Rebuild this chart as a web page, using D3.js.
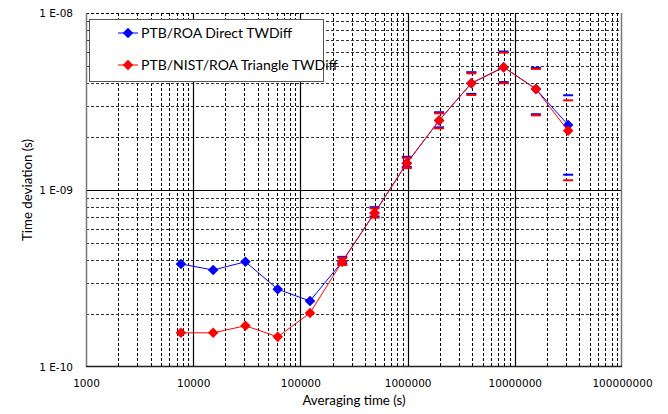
<!DOCTYPE html>
<html><head><meta charset="utf-8">
<script src="https://cdn.jsdelivr.net/npm/d3@7/dist/d3.min.js"></script>
<style>body{margin:0;background:#fff}svg{display:block}</style>
</head><body><svg id="c" width="668" height="414"></svg>
<script>
// ---- data ----
const tau = [7680, 15360, 30720, 61440, 122880, 245760, 491520, 983040, 1966080, 3932160, 7864320, 15728640, 31457280];
const directTW = [3.82e-10, 3.53e-10, 3.93e-10, 2.75e-10, 2.36e-10, 3.94e-10, 7.42e-10, 1.416e-9, 2.47e-9, 4.01e-9, 4.94e-9, 3.72e-9, 2.33e-9];
const triangleTW = [1.56e-10, 1.56e-10, 1.71e-10, 1.48e-10, 2.02e-10, 3.94e-10, 7.42e-10, 1.416e-9, 2.47e-9, 4.01e-9, 4.94e-9, 3.72e-9, 2.16e-9];
const errTau = [245760, 491520, 983040, 1966080, 3932160, 7864320, 15728640, 31457280];
const directUpper = [4.19e-10, 8.0e-10, 1.54e-9, 2.75e-9, 4.63e-9, 6.06e-9, 4.9e-9, 3.43e-9];
const directLower = [3.83e-10, 7.09e-10, 1.35e-9, 2.26e-9, 3.49e-9, 4.07e-9, 2.68e-9, 1.22e-9];
const triUpper = [4.13e-10, 7.88e-10, 1.52e-9, 2.71e-9, 4.56e-9, 5.97e-9, 4.83e-9, 3.21e-9];
const triLower = [3.77e-10, 6.98e-10, 1.33e-9, 2.23e-9, 3.44e-9, 4.01e-9, 2.64e-9, 1.135e-9];
const xTickValues = [1e3, 1e4, 1e5, 1e6, 1e7, 1e8];
const xTickLabels = ["1000", "10000", "100000", "1000000", "10000000", "100000000"];
const yTickValues = [1e-8, 1e-9, 1e-10];
const yTickLabels = ["1 E-08", "1 E-09", "1 E-10"];
const seriesNames = ["PTB/ROA Direct TWDiff", "PTB/NIST/ROA Triangle TWDiff"];

// ---- layout ----
const L = 86, R = 622, T = 13, B = 367;
const svg = d3.select("#c");
const x = d3.scaleLog().domain([1e3, 1e8]).range([L, R]);
const y = d3.scaleLog().domain([1e-10, 1e-8]).range([B, T]);

// minor grid
const minorX = [], minorY = [];
for (let d = 1e3; d < 1e8; d *= 10) for (let m = 2; m <= 9; m++) minorX.push(d * m);
for (let d = 1e-10; d < 1e-8 * 0.99; d *= 10) for (let m = 2; m <= 9; m++) minorY.push(d * m);
const g = svg.append("g");
g.selectAll(".mx").data(minorX).join("line")
  .attr("x1", d => Math.round(x(d)) + 0.5).attr("x2", d => Math.round(x(d)) + 0.5)
  .attr("y1", T).attr("y2", B).attr("stroke", "#000").attr("stroke-dasharray", "3,2").attr("stroke-width", 1);
g.selectAll(".my").data(minorY).join("line")
  .attr("y1", d => Math.round(y(d)) + 0.5).attr("y2", d => Math.round(y(d)) + 0.5)
  .attr("x1", L).attr("x2", R).attr("stroke", "#333").attr("stroke-dasharray", "3,2").attr("stroke-width", 1);
// top dashed
g.append("line").attr("x1", L).attr("x2", R).attr("y1", T + 0.5).attr("y2", T + 0.5)
  .attr("stroke", "#000").attr("stroke-dasharray", "3,2");
// major grid
g.selectAll(".Mx").data([1e4, 1e5, 1e6, 1e7]).join("line")
  .attr("x1", d => Math.round(x(d)) + 0.5).attr("x2", d => Math.round(x(d)) + 0.5)
  .attr("y1", T).attr("y2", B).attr("stroke", "#000").attr("stroke-width", 1.2);
g.append("line").attr("x1", L).attr("x2", R).attr("y1", Math.round(y(1e-9)) + 0.5).attr("y2", Math.round(y(1e-9)) + 0.5)
  .attr("stroke", "#000").attr("stroke-width", 1.2);
// frame
g.append("line").attr("x1", L + 0.5).attr("x2", L + 0.5).attr("y1", T).attr("y2", B).attr("stroke", "#777").attr("stroke-width", 1.5);
g.append("line").attr("x1", R - 0.5).attr("x2", R - 0.5).attr("y1", T).attr("y2", B).attr("stroke", "#777").attr("stroke-width", 1.5);
g.append("line").attr("x1", L).attr("x2", R).attr("y1", B - 0.5).attr("y2", B - 0.5).attr("stroke", "#222").attr("stroke-width", 1.5);

// axes labels
const xAxis = d3.axisBottom(x).tickValues(xTickValues).tickSize(0).tickPadding(0)
  .tickFormat((d, i) => xTickLabels[i]);
const gx = svg.append("g").attr("transform", `translate(0,${B})`).call(xAxis);
gx.select(".domain").remove();
gx.selectAll("text").attr("font-family", "DejaVu Sans").attr("font-size", "10.5px").attr("fill", "#000")
  .attr("dy", null).attr("y", 20);
const yAxis = d3.axisLeft(y).tickValues(yTickValues).tickSize(0).tickPadding(0)
  .tickFormat((d, i) => yTickLabels[i]);
const gy = svg.append("g").attr("transform", `translate(${73},0)`).call(yAxis);
gy.select(".domain").remove();
gy.selectAll("text").attr("font-family", "DejaVu Sans").attr("font-size", "10.5px").attr("fill", "#000");

svg.append("text").attr("x", 354).attr("y", 405).attr("text-anchor", "middle")
  .attr("font-family", "Lato").attr("font-size", "13.3px").text("Averaging time (s)");
svg.append("text").attr("transform", "translate(32,190) rotate(-90)").attr("text-anchor", "middle")
  .attr("font-family", "Lato").attr("font-size", "13.3px").text("Time deviation (s)");

// series
const line = d3.line().x(d => x(d[0])).y(d => y(d[1]));
const diamond = d3.symbol().type(d3.symbolSquare).size(56);
function drawSeries(vals, up, lo, color) {
  const pts = tau.map((t, i) => [t, vals[i]]);
  svg.append("path").attr("d", line(pts)).attr("fill", "none").attr("stroke", color).attr("stroke-width", 1);
  svg.append("g").selectAll("path").data(pts).join("path")
    .attr("d", diamond).attr("fill", color)
    .attr("transform", d => `translate(${x(d[0])},${y(d[1])}) rotate(45)`);
  const bars = errTau.flatMap((t, i) => [[t, up[i]], [t, lo[i]]]);
  svg.append("g").selectAll("line").data(bars).join("line")
    .attr("x1", d => x(d[0]) - 5).attr("x2", d => x(d[0]) + 5)
    .attr("y1", d => y(d[1])).attr("y2", d => y(d[1]))
    .attr("stroke", color).attr("stroke-width", 2);
}
drawSeries(directTW, directUpper, directLower, "#0000ff");
drawSeries(triangleTW, triUpper, triLower, "#ff0000");

// legend
const lg = svg.append("g");
lg.append("rect").attr("x", 89.5).attr("y", 19.5).attr("width", 234).attr("height", 62)
  .attr("fill", "#fff").attr("stroke", "#555").attr("stroke-width", 1);
[["#0000ff", 33], ["#ff0000", 65]].forEach(([c, yy], i) => {
  lg.append("line").attr("x1", 118).attr("x2", 138).attr("y1", yy).attr("y2", yy).attr("stroke", c).attr("stroke-width", 1);
  lg.append("path").attr("d", diamond).attr("fill", c).attr("transform", `translate(128,${yy}) rotate(45)`);
  lg.append("text").attr("x", 141).attr("y", yy).attr("dy", "0.35em").attr("font-family", "Lato")
    .attr("font-size", "14px").text(seriesNames[i]);
});
</script></body></html>
